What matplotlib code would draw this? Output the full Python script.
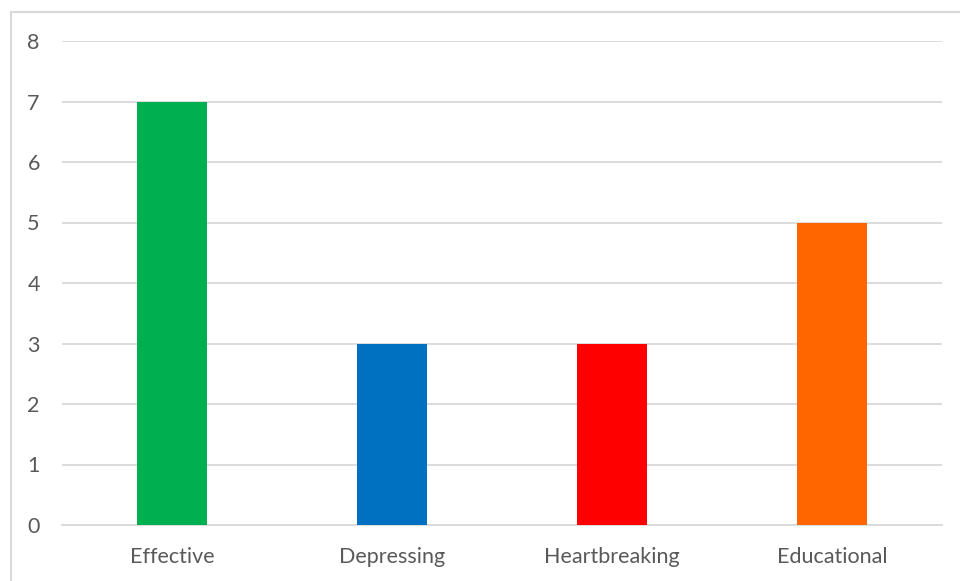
import matplotlib
matplotlib.use("Agg")
import matplotlib.pyplot as plt
from matplotlib.patches import Rectangle

categories = ["Effective", "Depressing", "Heartbreaking", "Educational"]
values = [7, 3, 3, 5]
bar_colors = ["#00B050", "#0070C0", "#FF0000", "#FF6600"]
y_ticks = [0, 1, 2, 3, 4, 5, 6, 7, 8]

W, H = 960, 581
fig = plt.figure(figsize=(W / 100, H / 100), dpi=100)
fig.patch.set_facecolor("white")

# chart-area frame
fig.patches.append(Rectangle((10.5 / W, -0.1), 1.2, (H - 12.5) / H + 0.1,
                             transform=fig.transFigure, fill=False,
                             edgecolor="#D9D9D9", linewidth=1.5))

ax = fig.add_axes([62 / W, (H - 525) / H, 880 / W, 484 / H])
x = range(len(categories))
ax.bar(x, values, width=0.318, color=bar_colors, zorder=3)

ax.set_xlim(-0.5, len(categories) - 0.5)
ax.set_ylim(0, 8)
ax.set_yticks(y_ticks)
ax.set_xticks(list(x))
ax.set_xticklabels(categories)

for s in ["top", "right", "left"]:
    ax.spines[s].set_visible(False)
ax.spines["bottom"].set_color("#D9D9D9")
ax.spines["bottom"].set_linewidth(1.3)
ax.grid(axis="y", color="#D9D9D9", linewidth=1.3, zorder=0)
ax.tick_params(axis="both", length=0, labelsize=15.5, labelcolor="#595959")
ax.tick_params(axis="y", pad=16)
ax.tick_params(axis="x", pad=16)
for lbl in ax.get_xticklabels() + ax.get_yticklabels():
    lbl.set_family("Lato")

fig.savefig("out.png", dpi=100)
